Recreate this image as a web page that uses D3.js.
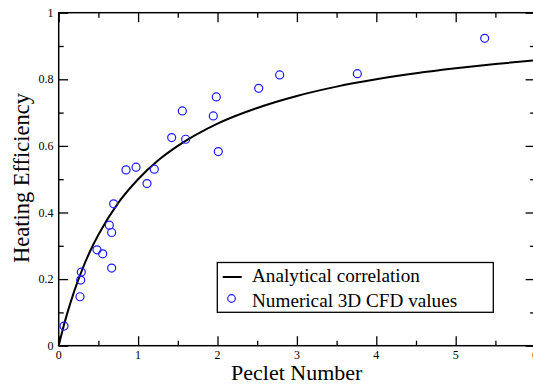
<!DOCTYPE html>
<html>
<head>
<meta charset="utf-8">
<script src="https://cdn.jsdelivr.net/npm/d3@7"></script>
<style>
  body { margin: 0; background: #fff; }
  svg { display: block; font-family: "Liberation Serif", "Times New Roman", serif; }
</style>
</head>
<body>
<script>
// Numerical 3D CFD values (Peclet number, heating efficiency)
var cfdPe  = [0.067, 0.268, 0.277, 0.285, 0.482, 0.554, 0.667, 0.638, 0.667, 0.692,
              0.848, 0.974, 1.112, 1.204, 1.423, 1.557, 1.599, 1.947, 1.985, 2.01,
              2.519, 2.783, 3.761, 5.365];
var cfdEff = [0.059, 0.147, 0.197, 0.221, 0.288, 0.276, 0.233, 0.362, 0.340, 0.426,
              0.528, 0.536, 0.487, 0.530, 0.625, 0.705, 0.620, 0.690, 0.747, 0.583,
              0.773, 0.813, 0.817, 0.923];

// Analytical correlation curve
var corrPe  = [0, 0.05, 0.1, 0.2, 0.3, 0.4, 0.5, 0.75, 1, 1.25, 1.5, 2, 2.5, 3, 3.5, 4, 4.5, 5, 5.5, 6];
var corrEff = [0, 0.048, 0.091, 0.167, 0.231, 0.286, 0.333, 0.429, 0.5, 0.556, 0.6, 0.667,
               0.714, 0.75, 0.778, 0.8, 0.818, 0.833, 0.846, 0.857];

var xTicks = [0, 1, 2, 3, 4, 5, 6];
var yTicks = [0, 0.2, 0.4, 0.6, 0.8, 1];
var legendLabels = ["Analytical correlation", "Numerical 3D CFD values"];

var width = 533, height = 385;
var plotLeft = 58.7, plotRight = 535.1, plotTop = 12.7, plotBottom = 345.7;

var svg = d3.select("body").append("svg")
    .attr("width", width)
    .attr("height", height);

var x = d3.scaleLinear().domain([0, 6]).range([plotLeft, plotRight]);
var y = d3.scaleLinear().domain([0, 1]).range([plotBottom, plotTop]);

// inward ticks on all four sides (major + minor)
var xMinor = d3.range(0.5, 6, 1);
var yMinor = d3.range(0.1, 1, 0.2);

function tickAxis(axisFn, scale, vals, len) {
    return axisFn(scale).tickValues(vals).tickSize(len).tickSizeOuter(0).tickFormat("");
}

var axes = svg.append("g").attr("class", "axes");
[[d3.axisTop, "translate(0," + plotBottom + ")", x],
 [d3.axisBottom, "translate(0," + plotTop + ")", x]].forEach(function (a) {
    axes.append("g").attr("transform", a[1]).call(tickAxis(a[0], a[2], xTicks, 9.5));
    axes.append("g").attr("transform", a[1]).call(tickAxis(a[0], a[2], xMinor, 5));
});
[[d3.axisRight, "translate(" + plotLeft + ",0)", y],
 [d3.axisLeft, "translate(" + plotRight + ",0)", y]].forEach(function (a) {
    axes.append("g").attr("transform", a[1]).call(tickAxis(a[0], a[2], yTicks, 9.5));
    axes.append("g").attr("transform", a[1]).call(tickAxis(a[0], a[2], yMinor, 5));
});
axes.selectAll(".domain").remove();
axes.selectAll("line").attr("stroke", "#000").attr("stroke-width", 1.3);

// frame
svg.append("rect")
    .attr("x", plotLeft).attr("y", plotTop)
    .attr("width", plotRight - plotLeft).attr("height", plotBottom - plotTop)
    .attr("fill", "none").attr("stroke", "#000").attr("stroke-width", 1.5);

// tick labels
svg.selectAll(".xlab").data(xTicks).enter().append("text")
    .attr("x", function (d) { return x(d); })
    .attr("y", 358.5)
    .attr("text-anchor", "middle")
    .attr("font-size", "12px")
    .text(function (d) { return d; });

svg.selectAll(".ylab").data(yTicks).enter().append("text")
    .attr("x", 53.5)
    .attr("y", function (d) { return y(d) + 4; })
    .attr("text-anchor", "end")
    .attr("font-size", "12px")
    .text(function (d) { return d; });

// axis titles
svg.append("text")
    .attr("x", 296.7).attr("y", 380)
    .attr("text-anchor", "middle")
    .attr("font-size", "22px")
    .text("Peclet Number");

svg.append("text")
    .attr("transform", "translate(28.5,178) rotate(-90)")
    .attr("text-anchor", "middle")
    .attr("font-size", "22.5px")
    .text("Heating Efficiency");

// correlation curve
var line = d3.line()
    .x(function (d, i) { return x(corrPe[i]); })
    .y(function (d) { return y(d); })
    .curve(d3.curveMonotoneX);

svg.append("path")
    .datum(corrEff)
    .attr("d", line)
    .attr("fill", "none")
    .attr("stroke", "#000")
    .attr("stroke-width", 2);

// CFD points
svg.selectAll(".pt").data(cfdEff).enter().append("circle")
    .attr("cx", function (d, i) { return x(cfdPe[i]); })
    .attr("cy", function (d) { return y(d); })
    .attr("r", 4)
    .attr("fill", "none")
    .attr("stroke", "#1a1aff")
    .attr("stroke-width", 1.2);

// legend
var lg = svg.append("g");
lg.append("rect")
    .attr("x", 217.3).attr("y", 262.5)
    .attr("width", 276).attr("height", 49.8)
    .attr("fill", "#fff").attr("stroke", "#000").attr("stroke-width", 1.3);
lg.append("line")
    .attr("x1", 222.7).attr("x2", 241.7)
    .attr("y1", 277).attr("y2", 277)
    .attr("stroke", "#000").attr("stroke-width", 2);
lg.append("circle")
    .attr("cx", 231.5).attr("cy", 298.5)
    .attr("r", 3.8)
    .attr("fill", "none").attr("stroke", "#1a1aff").attr("stroke-width", 1.2);
lg.selectAll("text").data(legendLabels).enter().append("text")
    .attr("x", 252)
    .attr("y", function (d, i) { return 282.3 + i * 24.3; })
    .attr("font-size", "19.2px")
    .text(function (d) { return d; });
</script>
</body>
</html>
